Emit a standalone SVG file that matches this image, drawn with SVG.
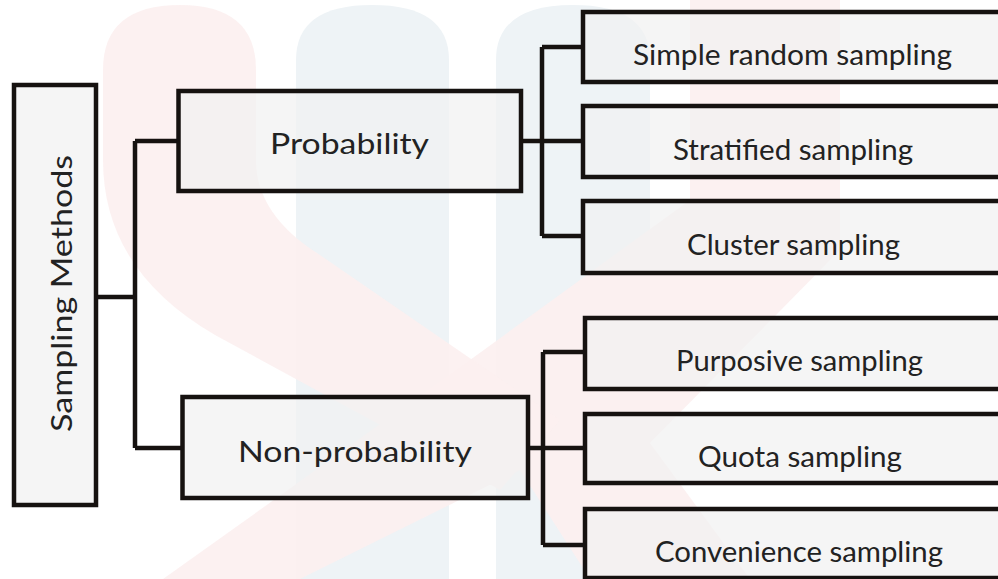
<svg xmlns="http://www.w3.org/2000/svg" width="998" height="579" viewBox="0 0 998 579">
<style>
.box{fill:#f1f1f1;fill-opacity:0.72;stroke:#161210;stroke-width:4.5}
.lbl{font-family:Lato,"Open Sans","Liberation Sans",sans-serif;font-size:29px;fill:#222;text-anchor:middle}
.wire{fill:none;stroke:#161210;stroke-width:4.5}
.wp{fill:#fcefef}
.wb{fill:#eef3f6}
</style>
<rect width="998" height="579" fill="#ffffff"/>
<g id="watermark">
<path class="wb" d="M296,579 L296,60 Q296,5 372,5 Q449,5 449,60 L449,579 Z"/>
<path class="wb" d="M496,579 L496,60 Q496,5 573,5 Q650,5 650,60 L650,579 Z"/>
<path class="wp" d="M690,0 L840,0 L840,250 L650,443 L750,579 L590,579 L520,470 L300,579 L163,579 L470,360 L690,200 Z" opacity="0.9"/>
<path class="wp" d="M103,70 Q103,5 180,5 Q256,5 256,70 L256,160 Q256,215 320,255 L560,420 L500,490 L215,335 Q103,270 103,160 Z" opacity="0.9"/>
</g>
<g id="connectors">
<path class="wire" d="M96,297 H135 M135,141 V448 M135,141 H178 M135,448 H182"/>
<path class="wire" d="M521,141 H583 M542,47 V236 M542,47 H583 M542,236 H583"/>
<path class="wire" d="M528,448 H585 M543,352 V545 M543,352 H585 M543,545 H585"/>
</g>
<g id="root">
<rect class="box" x="14" y="85" width="82" height="420"/>
<text class="lbl" transform="translate(72,293.5) rotate(-90)" font-size="31" textLength="277" lengthAdjust="spacingAndGlyphs">Sampling Methods</text>
</g>
<g id="probability">
<rect class="box" x="178.5" y="91" width="342.5" height="100"/>
<text class="lbl" x="349.5" y="154" font-size="31" textLength="159" lengthAdjust="spacingAndGlyphs">Probability</text>
</g>
<g id="nonprobability">
<rect class="box" x="182.5" y="397" width="345.5" height="101"/>
<text class="lbl" x="355" y="462" font-size="31" textLength="234" lengthAdjust="spacingAndGlyphs">Non-probability</text>
</g>
<g id="simple">
<rect class="box" x="583" y="12" width="430" height="70"/>
<text class="lbl" x="792.5" y="65" textLength="319" lengthAdjust="spacingAndGlyphs">Simple random sampling</text>
</g>
<g id="stratified">
<rect class="box" x="583" y="106" width="430" height="71"/>
<text class="lbl" x="793" y="160" textLength="240" lengthAdjust="spacingAndGlyphs">Stratified sampling</text>
</g>
<g id="cluster">
<rect class="box" x="583" y="201" width="430" height="72"/>
<text class="lbl" x="793.5" y="255" textLength="213" lengthAdjust="spacingAndGlyphs">Cluster sampling</text>
</g>
<g id="purposive">
<rect class="box" x="585" y="318" width="430" height="71"/>
<text class="lbl" x="799.5" y="371" textLength="247" lengthAdjust="spacingAndGlyphs">Purposive sampling</text>
</g>
<g id="quota">
<rect class="box" x="585" y="414" width="430" height="69"/>
<text class="lbl" x="800" y="467" textLength="204" lengthAdjust="spacingAndGlyphs">Quota sampling</text>
</g>
<g id="convenience">
<rect class="box" x="585" y="509" width="430" height="69"/>
<text class="lbl" x="799" y="562" textLength="288" lengthAdjust="spacingAndGlyphs">Convenience sampling</text>
</g>
</svg>
